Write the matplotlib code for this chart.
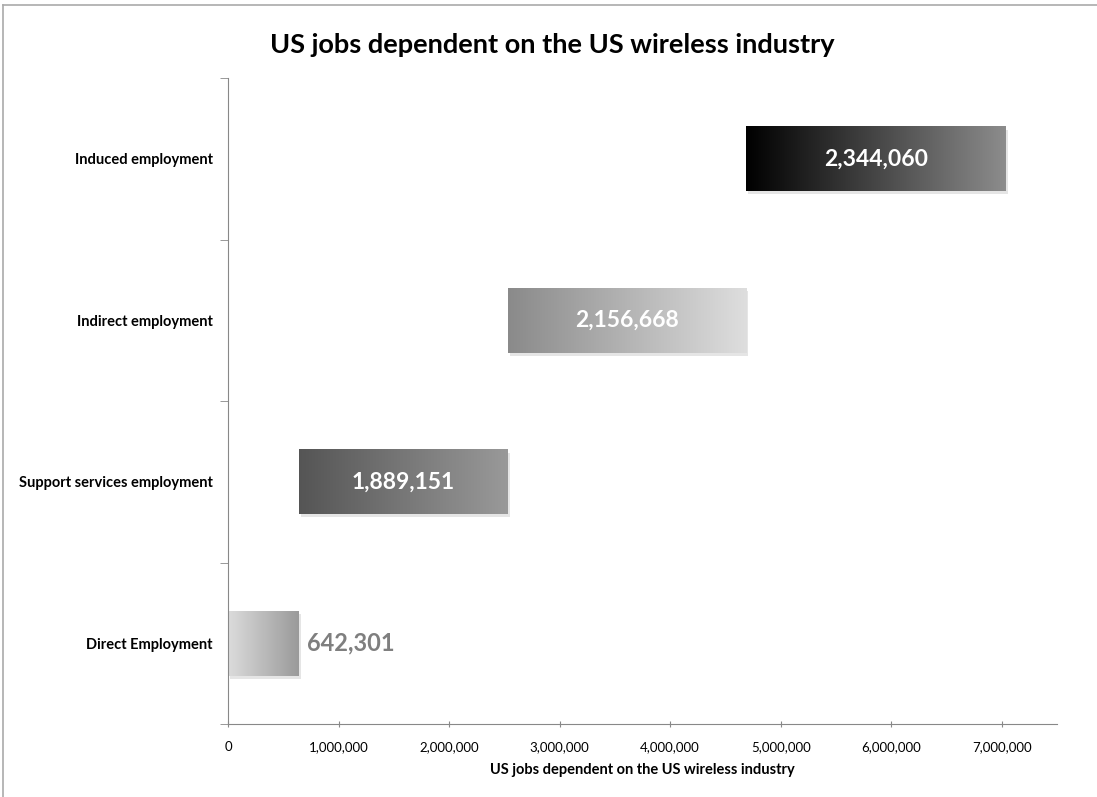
import matplotlib.pyplot as plt
import numpy as np
from matplotlib.colors import LinearSegmentedColormap
from matplotlib.patches import Rectangle
from matplotlib.lines import Line2D

# data
categories = ['Direct Employment', 'Support services employment',
              'Indirect employment', 'Induced employment']
jobs = [642301, 1889151, 2156668, 2344060]
xticks = [0, 1000000, 2000000, 3000000, 4000000, 5000000, 6000000, 7000000]

# gradient end colours per bar (left, right)
grads = [('#dcdcdc', '#9a9a9a'), ('#555555', '#999999'),
         ('#8a8a8a', '#dedede'), ('#000000', '#8c8c8c')]

plt.rcParams['font.family'] = ['Lato', 'DejaVu Sans']

fig = plt.figure(figsize=(10.97, 7.97), dpi=100)
ax = fig.add_axes([228 / 1097, 73 / 797, 829 / 1097, 646 / 797])

bases = np.concatenate([[0], np.cumsum(jobs)[:-1]])
ypos = np.arange(len(categories))
h = 0.4

grad = np.linspace(0, 1, 256).reshape(1, -1)
for i, (b, v) in enumerate(zip(bases, jobs)):
    # soft shadow
    ax.add_patch(Rectangle((b + 20000, ypos[i] - h / 2 - 0.02), v, h,
                           facecolor='#000000', alpha=0.10, lw=0, zorder=1))
    cmap = LinearSegmentedColormap.from_list('g%d' % i, list(grads[i]))
    ax.imshow(grad, extent=[b, b + v, ypos[i] - h / 2, ypos[i] + h / 2],
              aspect='auto', cmap=cmap, zorder=2)
    label = format(v, ',')
    if i == 0:
        ax.text(b + v + 70000, ypos[i], label, ha='left', va='center',
                fontsize=17, fontweight='bold', color='#7f7f7f', zorder=3)
    else:
        ax.text(b + v / 2, ypos[i], label, ha='center', va='center',
                fontsize=16.5, fontweight='bold', color='white', zorder=3)

ax.set_xlim(0, 7500000)
ax.set_ylim(-0.5, len(categories) - 0.5)

ax.set_xticks(xticks)
ax.set_xticklabels([format(t, ',') for t in xticks], fontsize=9.5)
ax.set_yticks(ypos)
ax.set_yticklabels(categories, fontsize=10.5, fontweight='bold')
ax.set_yticks(np.arange(-0.5, len(categories)), minor=True)
ax.tick_params(axis='y', which='major', length=0, pad=11)
ax.tick_params(axis='y', which='minor', length=6, color='#888888')
ax.tick_params(axis='x', length=5, direction='inout', color='#888888', pad=10)

for s in ['top', 'right']:
    ax.spines[s].set_visible(False)
for s in ['left', 'bottom']:
    ax.spines[s].set_color('#888888')

ax.set_xlabel('US jobs dependent on the US wireless industry',
              fontsize=10.5, fontweight='bold', labelpad=7)
fig.text(552 / 1097, 1 - 45 / 797, 'US jobs dependent on the US wireless industry',
         ha='center', va='center', fontsize=19.5, fontweight='bold')

# outer frame
fig.add_artist(Line2D([3 / 1097, 3 / 1097], [0, 1 - 5 / 797], color='#aaaaaa', lw=1.2))
fig.add_artist(Line2D([3 / 1097, 1], [1 - 5 / 797, 1 - 5 / 797], color='#aaaaaa', lw=1.2))

plt.savefig('out.png', dpi=100)
